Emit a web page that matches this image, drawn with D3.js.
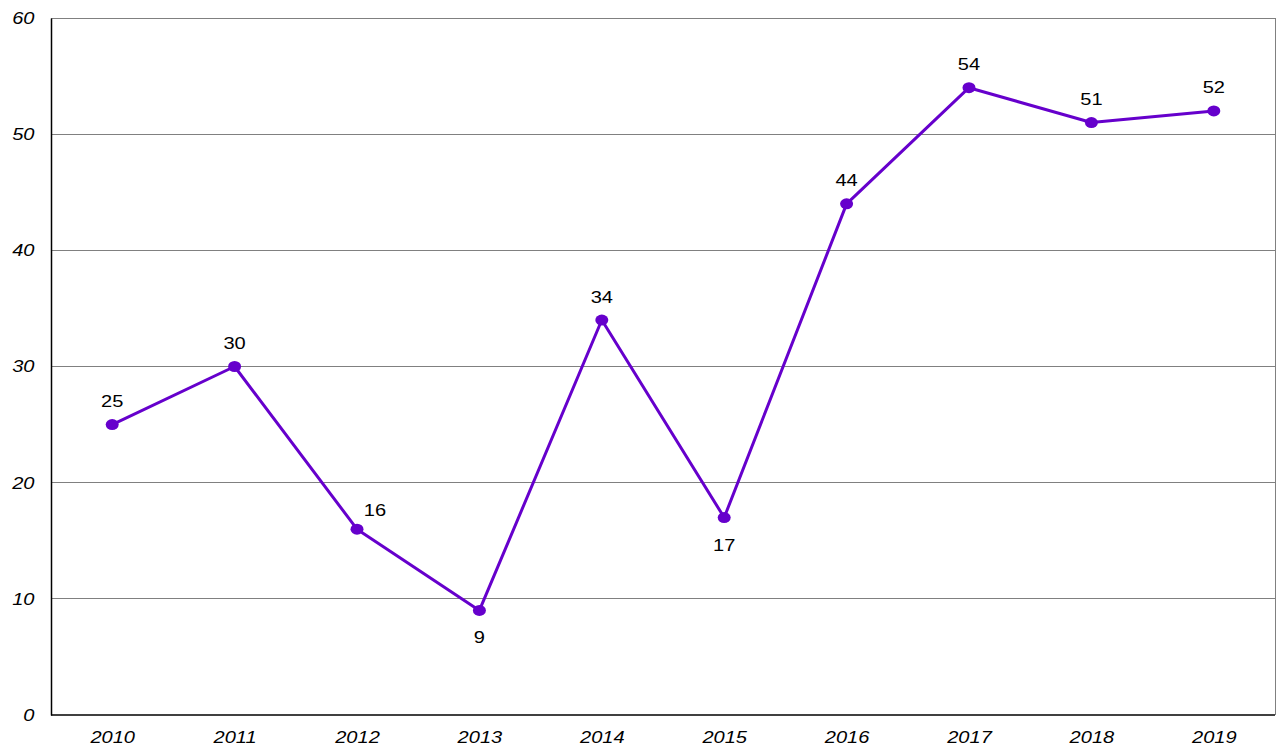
<!DOCTYPE html>
<html><head><meta charset="utf-8">
<script src="https://cdn.jsdelivr.net/npm/d3@7"></script>
<style>body{margin:0;background:#fff}svg{display:block}</style>
</head><body>
<svg id="c" width="1276" height="748"></svg>
<script>
const categories = ["2010","2011","2012","2013","2014","2015","2016","2017","2018","2019"];
const values = [25,30,16,9,34,17,44,54,51,52];
const yTicks = [0,10,20,30,40,50,60];
const labelPlacement = ["above","above","aboveRight","below","above","below","above","above","above","above"];

const svg = d3.select("#c");
const m = {l:51, r:1275, t:18, b:715};
const x = d3.scalePoint().domain(categories).range([m.l, m.r]).padding(0.5);
const y = d3.scaleLinear().domain([0,60]).range([m.b, m.t]);
const font = "Liberation Sans, Arial, sans-serif";
const sx = 1.18;

// gridlines
svg.append("g").selectAll("line").data(yTicks.filter(d=>d>0)).join("line")
  .attr("x1", m.l).attr("x2", m.r).attr("y1", d=>y(d)).attr("y2", d=>y(d))
  .attr("stroke", "#808080").attr("stroke-width", 1).attr("shape-rendering","crispEdges");
// right border
svg.append("line").attr("x1", m.r).attr("x2", m.r).attr("y1", m.t).attr("y2", m.b)
  .attr("stroke", "#808080").attr("shape-rendering","crispEdges");

// axes
const yAxis = svg.append("g").attr("transform", `translate(${m.l},0)`)
  .call(d3.axisLeft(y).tickValues(yTicks).tickSize(0).tickPadding(14));
yAxis.select(".domain").attr("stroke","#000").attr("stroke-width",1.5);
yAxis.selectAll("text").attr("font-family", font).attr("font-size", 17).attr("font-style","italic").attr("fill","#000")
  .attr("transform", `scale(${sx},1)`);

const xAxis = svg.append("g").attr("transform", `translate(0,${m.b})`)
  .call(d3.axisBottom(x).tickSize(0).tickPadding(16));
xAxis.select(".domain").attr("stroke","#000").attr("stroke-width",1.5).attr("d", `M${m.l},0H${m.r}`);
xAxis.selectAll("text").attr("font-family", font).attr("font-size", 17).attr("font-style","italic").attr("fill","#000")
  .attr("transform", `scale(${sx},1)`);

const color = "#6600CC";
const line = d3.line().x((d,i)=>x(categories[i])).y(d=>y(d));
svg.append("path").datum(values).attr("d", line).attr("fill","none")
  .attr("stroke", color).attr("stroke-width", 3).attr("stroke-linejoin","round");

svg.append("g").selectAll("ellipse").data(values).join("ellipse")
  .attr("cx", (d,i)=>x(categories[i])).attr("cy", d=>y(d)).attr("rx", 6.5).attr("ry", 5.5)
  .attr("fill", color);

svg.append("g").selectAll("text").data(values).join("text")
  .attr("transform", (d,i)=>{
    const p = labelPlacement[i];
    const tx = x(categories[i]) + (p==="aboveRight" ? 18 : 0);
    const ty = y(d) + (p==="below" ? 33 : p==="aboveRight" ? -13 : -17.5);
    return `translate(${tx},${ty}) scale(${sx},1)`;
  })
  .attr("text-anchor","middle")
  .attr("font-family", font).attr("font-size", 17).attr("fill","#000")
  .text(d=>d);
</script>
</body></html>
